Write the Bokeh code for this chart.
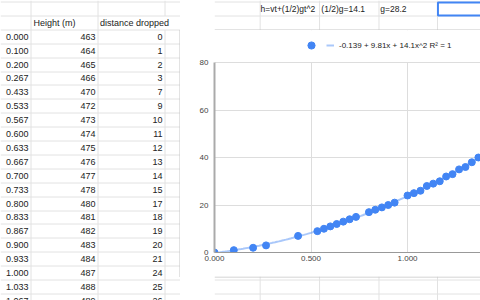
import math
import numpy as np
from bokeh.plotting import figure
from bokeh.layouts import row, column
from bokeh.models import (ColumnDataSource, Range1d, FixedTicker, NumeralTickFormatter,
                          Legend, LegendItem, BoxAnnotation)
from bokeh.core.properties import value
from bokeh.embed import file_html
from bokeh.resources import INLINE

# ---------------- data ----------------
time_s = [0.000, 0.100, 0.200, 0.267, 0.433, 0.533, 0.567, 0.600, 0.633, 0.667,
          0.700, 0.733, 0.800, 0.833, 0.867, 0.900, 0.933, 1.000, 1.033, 1.067,
          1.100, 1.133, 1.167, 1.200, 1.233, 1.267, 1.300, 1.333, 1.367]
distance_dropped = [0, 1, 2, 3, 7, 9, 10, 11, 12, 13, 14, 15, 17, 18, 19, 20, 21, 24, 25, 26,
                    28, 29, 30, 32, 33, 35, 36, 38, 40]
height_m = [463, 464, 465, 466, 470, 472, 473, 474, 475, 476, 477, 478, 480, 481,
            482, 483, 484, 487, 488, 489]
header_labels = ["Height (m)", "distance dropped"]
top_notes = ["h=vt+(1/2)gt^2", "(1/2)g=14.1", "g=28.2"]
trend_coef = [-0.139, 9.81, 14.1]          # c0 + c1 x + c2 x^2
trend_label = "-0.139 + 9.81x + 14.1x^2 R\u00b2 = 1"
x_ticks = [0.0, 0.5, 1.0]
y_ticks = [0, 20, 40, 60, 80]

# ---------------- styles ----------------
FONT = "Liberation Sans"
GRID = "#e2e2e2"
BOX = "#c6c6c6"
TXT = "#222222"
BLUE = "#4285f4"
ROW_H = 13.9
LINE0 = 1.5


def line_y(k):
    return math.floor(LINE0 + ROW_H * k) + 0.5


def row_c(r):
    return LINE0 + ROW_H * r + ROW_H / 2


def sheet_fig(w, h, x0, y0):
    p = figure(width=w, height=h, x_range=Range1d(x0, x0 + w), y_range=Range1d(y0 + h, y0),
               x_axis_type=None, y_axis_type=None, toolbar_location=None,
               output_backend="svg", min_border=0, outline_line_color=None,
               background_fill_color="white", border_fill_color="white")
    return p


def txt(p, size="9px", **kw):
    p.text(text_font=value(FONT), text_font_size=size, text_color=TXT,
           text_baseline="middle", **kw)


# ---------------- left sheet (x 0..180, y 0..300) ----------------
L = sheet_fig(180, 300, 0, 0)
hy = [line_y(k) for k in range(23)]
L.segment(x0=0, x1=180, y0=hy, y1=hy, line_color=GRID, line_width=1)
L.segment(x0=[30.5, 97.5, 164.5, 164.5], x1=[30.5, 97.5, 164.5, 164.5],
          y0=[0, 0, 0, line_y(2)], y1=[300, 300, line_y(1), 300],
          line_color=GRID, line_width=1)
L.segment(x0=179.5, x1=179.5, y0=line_y(2), y1=276.5, line_color=BOX, line_width=1)

n = len(height_m)
tab = ColumnDataSource(dict(
    t=[f"{v:.3f}" for v in time_s[:n]],
    h=[str(v) for v in height_m],
    d=[str(v) for v in distance_dropped[:n]],
    y=[row_c(2 + i) for i in range(n)],
))
txt(L, x=28, y="y", text="t", source=tab, text_align="right")
txt(L, x=95, y="y", text="h", source=tab, text_align="right")
txt(L, x=162, y="y", text="d", source=tab, text_align="right")
txt(L, x=[33, 99.5], y=[row_c(1)] * 2, text=header_labels, text_align="left")

# ---------------- top sheet strip (x 180..480, y 0..30) ----------------
T = sheet_fig(300, 30, 180, 0)
T.segment(x0=180, x1=480, y0=[line_y(0), line_y(1)], y1=[line_y(0), line_y(1)],
          line_color=GRID, line_width=1)
vx = [231.5, 298.5, 365.5, 431.5]
T.segment(x0=vx, x1=vx, y0=0, y1=30, line_color=GRID, line_width=1)
T.segment(x0=180, x1=480, y0=line_y(2), y1=line_y(2), line_color=BOX, line_width=1)
txt(T, size="8.5px", x=[232, 300.5, 367], y=[row_c(0)] * 3, text=top_notes, text_align="left")
T.quad(left=432, right=484, top=2, bottom=15, fill_color=None, line_color=BLUE, line_width=2)

# ---------------- chart (y 30..276) ----------------
# frame: 34px left border, spans to the top of the chart box; axis/grid stop at 80
C = figure(width=300, height=246, x_range=Range1d(0, 1.378), y_range=Range1d(0, 80 + 32 / 2.375),
           toolbar_location=None, output_backend="svg",
           min_border_left=34, min_border_right=0, min_border_top=0, min_border_bottom=24,
           outline_line_color=None, background_fill_color="white", border_fill_color="white")
C.xaxis.ticker = FixedTicker(ticks=x_ticks)
C.yaxis.ticker = FixedTicker(ticks=y_ticks)
C.yaxis.bounds = (y_ticks[0], y_ticks[-1])
C.xaxis.formatter = NumeralTickFormatter(format="0.000")
for ax in (C.xaxis, C.yaxis):
    ax.major_tick_in = 0
    ax.major_tick_out = 0
    ax.minor_tick_line_color = None
    ax.major_label_text_font = FONT
    ax.major_label_text_font_size = "8px"
    ax.major_label_text_color = "#444444"
C.xaxis.major_label_standoff = 3
C.yaxis.major_label_standoff = 6
C.yaxis.axis_line_color = "#aaaaaa"
C.yaxis.axis_line_width = 2
C.xaxis.axis_line_color = "#999999"
C.xaxis.axis_line_width = 1
C.xgrid.ticker = FixedTicker(ticks=x_ticks)
C.ygrid.ticker = FixedTicker(ticks=y_ticks)
C.grid.grid_line_color = "#dddddd"
# white band above the top gridline where the legend sits
C.add_layout(BoxAnnotation(bottom=y_ticks[-1] + 0.25, fill_color="white", fill_alpha=1,
                           line_color=None, level="underlay"))

xs = np.linspace(0, C.x_range.end, 150)
ys = trend_coef[0] + trend_coef[1] * xs + trend_coef[2] * xs ** 2
trend = C.line(xs, ys, line_color=BLUE, line_alpha=0.45, line_width=2)
pts = C.scatter(x="t", y="d", source=ColumnDataSource(dict(t=time_s, d=distance_dropped)),
                size=7, fill_color=BLUE, line_color=BLUE)


def mk_legend(item, loc, gw):
    return Legend(items=[item], location=loc, orientation="horizontal",
                  glyph_width=gw, glyph_height=18, label_height=18, label_width=0,
                  label_standoff=5, padding=0, margin=0, spacing=0,
                  border_line_color=None, background_fill_alpha=0,
                  label_text_font=FONT, label_text_font_size="8px", label_text_color=TXT)


C.add_layout(mk_legend(LegendItem(label=" ", renderers=[pts]), (88, 198), 18))
C.add_layout(mk_legend(LegendItem(label=trend_label, renderers=[trend]), (112, 198), 8))

# ---------------- bottom sheet strip (x 180..480, y 276..300) ----------------
B = sheet_fig(300, 24, 180, 276)
B.segment(x0=180, x1=480, y0=[line_y(20), line_y(21)], y1=[line_y(20), line_y(21)],
          line_color=GRID, line_width=1)
B.segment(x0=vx, x1=vx, y0=276, y1=300, line_color=GRID, line_width=1)
B.segment(x0=180, x1=480, y0=276.5, y1=276.5, line_color=BOX, line_width=1)

layout = row(L, column(T, C, B, spacing=0), spacing=0)
open("out.html", "w").write(file_html(layout, INLINE))
